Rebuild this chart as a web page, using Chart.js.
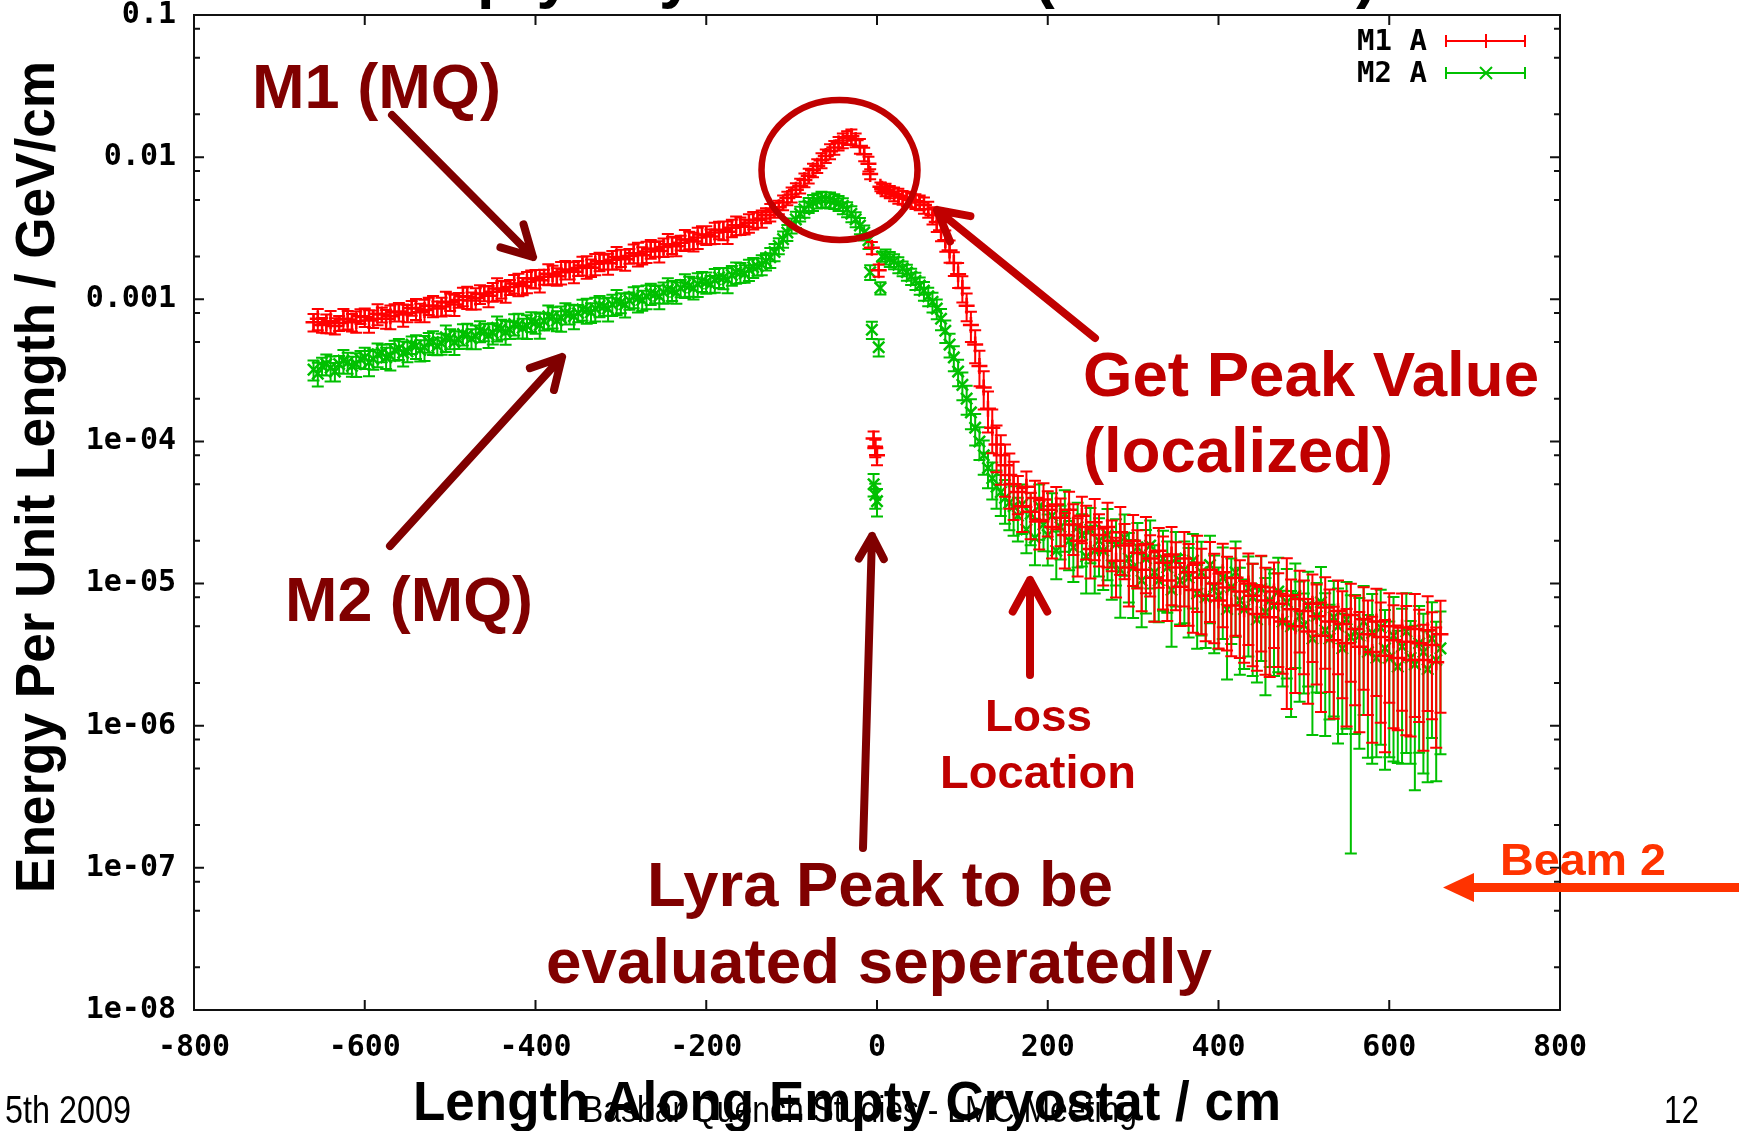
<!DOCTYPE html>
<html>
<head>
<meta charset="utf-8">
<title>Energy per unit length along empty cryostat</title>
<script src="https://cdn.jsdelivr.net/npm/chart.js@4.4.1/dist/chart.umd.min.js"></script>
<style>
  html, body { margin: 0; padding: 0; background: #fff; }
  #wrap { position: relative; width: 1739px; height: 1131px; overflow: hidden; }
</style>
</head>
<body>
<div id="wrap"><canvas id="myChart" width="1739" height="1131"></canvas></div>
<script>
// positions along the cryostat (cm)
const xPos = [
  -660,-655,-650,-645,-640,-635,-630,-625,-620,-615,
  -610,-605,-600,-595,-590,-585,-580,-575,-570,-565,
  -560,-555,-550,-545,-540,-535,-530,-525,-520,-515,
  -510,-505,-500,-495,-490,-485,-480,-475,-470,-465,
  -460,-455,-450,-445,-440,-435,-430,-425,-420,-415,
  -410,-405,-400,-395,-390,-385,-380,-375,-370,-365,
  -360,-355,-350,-345,-340,-335,-330,-325,-320,-315,
  -310,-305,-300,-295,-290,-285,-280,-275,-270,-265,
  -260,-255,-250,-245,-240,-235,-230,-225,-220,-215,
  -210,-205,-200,-195,-190,-185,-180,-175,-170,-165,
  -160,-155,-150,-145,-140,-135,-130,-125,-120,-115,
  -110,-105,-100,-95,-90,-85,-80,-75,-70,-65,
  -60,-55,-50,-45,-40,-35,-30,-25,-20,-15,
  -10,
  -8,-6,-4,-2,0,2,4,6,
  10,15,20,25,30,35,40,45,50,55,60,65,70,75,80,85,90,95,100,105,110,115,120,125,130,135,140,145,150,155,160,
  165,170,175,180,185,190,195,200,205,210,215,220,225,230,235,240,245,250,255,260,
  265,270,275,280,285,290,295,300,305,310,315,320,325,330,335,340,345,350,355,360,
  365,370,375,380,385,390,395,400,405,410,415,420,425,430,435,440,445,450,455,460,
  465,470,475,480,485,490,495,500,505,510,515,520,525,530,535,540,545,550,555,560,
  565,570,575,580,585,590,595,600,605,610,615,620,625,630,635,640,645,650,655,660
];

// M1 A  (GeV/cm)
const m1Val = [
  6.9e-4,7.3e-4,6.6e-4,6.8e-4,7.0e-4,6.5e-4,6.8e-4,7.3e-4,7.2e-4,6.9e-4,
  7.0e-4,7.6e-4,7.5e-4,7.1e-4,7.3e-4,7.9e-4,7.8e-4,7.3e-4,7.6e-4,8.1e-4,
  8.2e-4,7.8e-4,8.0e-4,8.7e-4,8.6e-4,8.1e-4,8.4e-4,9.0e-4,9.0e-4,8.6e-4,
  8.9e-4,9.5e-4,9.6e-4,9.2e-4,9.9e-4,1.05e-3,1.04e-3,9.8e-4,1.02e-3,1.09e-3,
  1.10e-3,1.06e-3,1.13e-3,1.19e-3,1.18e-3,1.14e-3,1.22e-3,1.29e-3,1.28e-3,1.24e-3,
  1.33e-3,1.40e-3,1.40e-3,1.36e-3,1.44e-3,1.51e-3,1.50e-3,1.45e-3,1.55e-3,1.62e-3,
  1.60e-3,1.56e-3,1.66e-3,1.73e-3,1.70e-3,1.67e-3,1.78e-3,1.85e-3,1.84e-3,1.79e-3,
  1.90e-3,1.98e-3,1.96e-3,1.91e-3,2.02e-3,2.11e-3,2.10e-3,2.04e-3,2.17e-3,2.27e-3,
  2.26e-3,2.19e-3,2.33e-3,2.44e-3,2.42e-3,2.36e-3,2.50e-3,2.63e-3,2.62e-3,2.55e-3,
  2.72e-3,2.86e-3,2.84e-3,2.77e-3,2.95e-3,3.08e-3,3.06e-3,2.99e-3,3.18e-3,3.32e-3,
  3.30e-3,3.24e-3,3.45e-3,3.60e-3,3.62e-3,3.70e-3,3.90e-3,4.10e-3,4.25e-3,4.45e-3,
  4.80e-3,5.15e-3,5.45e-3,5.90e-3,6.30e-3,6.90e-3,7.40e-3,8.10e-3,8.70e-3,9.50e-3,
  1.02e-2,1.10e-2,1.17e-2,1.25e-2,1.31e-2,1.37e-2,1.40e-2,1.32e-2,1.20e-2,1.05e-2,
  9.0e-3,
  7.6e-3,2.3e-3,1.05e-4,9.0e-5,8.0e-5,1.6e-3,6.2e-3,6.0e-3,
  5.9e-3,5.7e-3,5.5e-3,5.35e-3,5.2e-3,5.1e-3,5.0e-3,4.9e-3,4.8e-3,4.6e-3,4.3e-3,3.9e-3,3.5e-3,3.05e-3,2.6e-3,2.2e-3,
  1.8e-3,1.5e-3,1.2e-3,9.0e-4,6.6e-4,4.8e-4,3.4e-4,2.4e-4,1.7e-4,1.25e-4,9.5e-5,8.0e-5,6.8e-5,5.8e-5,5.0e-5,
  4.4e-5,3.5e-5,4.8e-5,3.2e-5,4.0e-5,2.8e-5,3.9e-5,3.3e-5,2.5e-5,3.6e-5,2.9e-5,2.2e-5,3.3e-5,2.6e-5,2.0e-5,3.0e-5,2.5e-5,1.75e-5,2.7e-5,2.2e-5,
  1.7e-5,2.5e-5,2.0e-5,1.45e-5,2.3e-5,1.85e-5,1.3e-5,2.0e-5,1.65e-5,1.25e-5,1.9e-5,1.5e-5,1.1e-5,1.7e-5,1.4e-5,1.05e-5,1.6e-5,1.3e-5,9.5e-6,1.5e-5,
  1.2e-5,9.0e-6,1.4e-5,1.1e-5,8.2e-6,1.25e-5,1.0e-5,7.6e-6,1.2e-5,9.4e-6,7.0e-6,1.1e-5,8.8e-6,6.6e-6,1.0e-5,8.2e-6,6.1e-6,9.5e-6,7.6e-6,5.8e-6,
  8.8e-6,7.2e-6,5.4e-6,8.2e-6,6.6e-6,5.0e-6,7.8e-6,6.4e-6,4.6e-6,7.2e-6,5.9e-6,4.3e-6,6.8e-6,5.4e-6,4.0e-6,6.4e-6,5.2e-6,3.8e-6,6.0e-6,4.8e-6,
  3.6e-6,5.6e-6,4.4e-6,3.3e-6,5.4e-6,4.2e-6,3.1e-6,5.0e-6,4.0e-6,3.0e-6,4.9e-6,3.9e-6,2.9e-6,4.8e-6,3.8e-6,2.9e-6,4.7e-6,3.7e-6,2.8e-6,4.4e-6
];
// M1 A error, percent of value
const m1ErrPct = [
  14,17,12,15,18,13,12,17,15,14,
  17,12,15,18,14,17,12,15,19,14,
  15,18,14,12,17,15,18,14,17,12,
  15,19,14,17,12,15,18,14,17,15,
  12,17,15,18,14,17,12,15,18,14,
  17,14,15,18,12,17,15,14,18,15,
  14,17,12,15,18,14,17,15,12,17,
  15,18,14,17,12,15,19,14,17,15,
  12,17,15,18,14,15,12,17,14,15,
  17,14,15,12,17,14,15,18,14,15,
  14,12,15,14,12,14,12,14,12,11,
  12,11,12,11,12,11,12,11,11,12,
  11,12,11,11,12,11,12,11,12,11,
  12,
  8,10,12,14,15,10,7,7,
  10,10,11,12,11,12,11,12,12,13,13,14,15,16,17,18,
  19,20,21,22,24,26,28,30,32,34,36,38,40,42,44,
  30,34,28,36,32,38,30,35,40,33,37,42,34,39,44,36,41,38,46,40,
  43,48,39,45,50,42,47,52,44,49,55,46,51,45,53,48,56,50,47,54,
  58,50,55,60,52,57,62,54,59,64,56,61,66,58,63,68,60,65,70,62,
  60,64,57,84,62,66,58,64,69,61,67,71,63,68,72,64,70,74,66,71,
  75,68,73,77,70,75,79,71,76,69,74,78,71,76,72,77,73,70,75,72
];

// M2 A  (GeV/cm)
const m2Val = [
  3.2e-4,3.0e-4,3.4e-4,3.5e-4,3.3e-4,3.1e-4,3.5e-4,3.7e-4,3.6e-4,3.4e-4,
  3.5e-4,3.8e-4,3.9e-4,3.6e-4,3.8e-4,4.1e-4,4.2e-4,3.9e-4,4.0e-4,4.4e-4,
  4.5e-4,4.2e-4,4.3e-4,4.8e-4,4.7e-4,4.4e-4,4.6e-4,5.0e-4,5.0e-4,4.7e-4,
  4.9e-4,5.4e-4,5.3e-4,5.0e-4,5.2e-4,5.7e-4,5.6e-4,5.3e-4,5.5e-4,6.0e-4,
  5.9e-4,5.6e-4,5.8e-4,6.3e-4,6.2e-4,5.9e-4,6.1e-4,6.7e-4,6.6e-4,6.3e-4,
  6.5e-4,7.0e-4,6.9e-4,6.6e-4,7.0e-4,7.6e-4,7.5e-4,7.1e-4,7.4e-4,8.0e-4,
  7.9e-4,7.6e-4,8.0e-4,8.5e-4,8.4e-4,8.1e-4,8.6e-4,9.0e-4,8.9e-4,8.6e-4,
  9.2e-4,9.7e-4,9.5e-4,9.2e-4,9.8e-4,1.04e-3,1.02e-3,9.9e-4,1.05e-3,1.10e-3,
  1.09e-3,1.05e-3,1.12e-3,1.17e-3,1.16e-3,1.12e-3,1.20e-3,1.26e-3,1.24e-3,1.20e-3,
  1.28e-3,1.34e-3,1.32e-3,1.28e-3,1.37e-3,1.43e-3,1.42e-3,1.38e-3,1.48e-3,1.55e-3,
  1.55e-3,1.52e-3,1.62e-3,1.68e-3,1.70e-3,1.76e-3,1.85e-3,1.98e-3,2.15e-3,2.38e-3,
  2.65e-3,2.95e-3,3.30e-3,3.65e-3,4.00e-3,4.30e-3,4.60e-3,4.80e-3,4.95e-3,5.05e-3,
  5.05e-3,5.00e-3,4.90e-3,4.75e-3,4.55e-3,4.30e-3,4.00e-3,3.65e-3,3.30e-3,2.95e-3,
  2.60e-3,
  1.55e-3,6.1e-4,5.0e-5,4.2e-5,3.8e-5,4.6e-4,1.2e-3,2.0e-3,
  2.0e-3,1.92e-3,1.85e-3,1.75e-3,1.65e-3,1.55e-3,1.45e-3,1.35e-3,1.25e-3,1.15e-3,1.05e-3,9.6e-4,8.6e-4,7.3e-4,6.0e-4,4.8e-4,
  3.9e-4,3.1e-4,2.5e-4,2.0e-4,1.6e-4,1.25e-4,1.0e-4,8.0e-5,6.5e-5,5.5e-5,4.8e-5,4.4e-5,4.0e-5,3.7e-5,3.5e-5,
  3.0e-5,3.6e-5,2.4e-5,3.1e-5,2.1e-5,3.5e-5,2.6e-5,2.2e-5,3.0e-5,1.7e-5,2.5e-5,3.1e-5,2.0e-5,1.8e-5,2.5e-5,2.2e-5,1.55e-5,2.4e-5,1.7e-5,2.0e-5,
  1.7e-5,2.2e-5,1.35e-5,1.9e-5,1.25e-5,2.1e-5,1.5e-5,1.3e-5,1.8e-5,1.05e-5,1.5e-5,1.85e-5,1.2e-5,1.05e-5,1.5e-5,1.3e-5,9.0e-6,1.5e-5,1.05e-5,1.25e-5,
  1.1e-5,1.45e-5,8.5e-6,1.2e-5,8.0e-6,1.35e-5,9.5e-6,8.2e-6,1.1e-5,6.6e-6,9.4e-6,1.2e-5,7.6e-6,6.6e-6,9.3e-6,8.0e-6,5.6e-6,9.2e-6,6.3e-6,7.6e-6,
  7.0e-6,8.8e-6,5.4e-6,7.4e-6,5.0e-6,8.2e-6,5.9e-6,5.1e-6,7.0e-6,4.1e-6,5.9e-6,7.4e-6,4.7e-6,4.1e-6,5.8e-6,5.0e-6,3.5e-6,5.6e-6,4.2e-6,4.6e-6,
  4.3e-6,5.4e-6,3.3e-6,4.5e-6,3.0e-6,4.9e-6,3.5e-6,3.0e-6,4.3e-6,2.6e-6,3.6e-6,4.6e-6,3.0e-6,2.7e-6,3.8e-6,3.3e-6,2.5e-6,4.1e-6,2.9e-6,3.5e-6
];
// M2 A error, percent of value
const m2ErrPct = [
  16,19,14,17,20,15,14,19,17,16,
  19,14,17,20,16,19,14,17,21,16,
  17,20,16,14,19,17,20,16,19,14,
  17,21,16,19,14,17,20,16,19,17,
  14,19,17,20,16,19,14,17,20,16,
  19,16,17,20,14,19,17,16,20,17,
  16,19,14,17,20,16,19,17,14,19,
  17,20,16,19,14,17,21,16,19,17,
  14,19,17,20,16,17,14,19,16,17,
  19,16,17,14,19,16,17,20,16,17,
  16,14,17,16,14,16,14,16,14,13,
  13,13,12,13,12,13,12,13,12,13,
  12,13,12,12,13,12,13,12,13,12,
  13,
  12,14,18,20,22,14,10,8,
  12,12,12,13,12,13,13,14,14,15,15,16,16,17,18,19,
  20,21,22,23,24,25,26,27,28,29,30,32,34,36,38,
  34,38,32,40,36,42,35,39,44,37,41,46,38,43,48,40,45,42,50,44,
  47,52,43,49,54,46,51,56,48,53,59,50,55,49,57,52,60,54,51,58,
  62,54,59,64,56,61,66,58,63,68,60,65,70,62,67,72,64,69,74,66,
  68,73,65,71,77,69,75,67,73,79,71,77,82,73,80,85,75,83,97,81,
  84,78,82,88,80,85,86,80,87,79,85,86,82,87,83,86,84,80,86,82
];

const seriesNames = ['M1 A', 'M2 A'];
const yTickVals = [1e-8, 1e-7, 1e-6, 1e-5, 1e-4, 1e-3, 1e-2, 1e-1];
const yTickLabels = ['1e-08', '1e-07', '1e-06', '1e-05', '1e-04', '0.001', '0.01', '0.1'];
const xTickLabels = ['-800', '-600', '-400', '-200', '0', '200', '400', '600', '800'];

const errPct = [m1ErrPct, m2ErrPct];
const monoFont = '"DejaVu Sans Mono", monospace';
const sansFont = '"Liberation Sans", Arial, sans-serif';

// text squeezed/stretched to a given width, like on the slide
function slideText(ctx, str, x, y, size, width, color, bold, align) {
  ctx.save();
  ctx.font = (bold ? 'bold ' : '') + size + 'px ' + sansFont;
  ctx.fillStyle = color;
  ctx.textBaseline = 'alphabetic';
  ctx.textAlign = 'left';
  const w = ctx.measureText(str).width;
  const sx = width ? width / w : 1;
  const left = align === 'center' ? x - w * sx / 2 : x;
  ctx.translate(left, y);
  ctx.scale(sx, 1);
  ctx.fillText(str, 0, 0);
  ctx.restore();
}

function arrow(ctx, x1, y1, x2, y2, color, lw, head) {
  const a = Math.atan2(y2 - y1, x2 - x1);
  ctx.save();
  ctx.strokeStyle = color;
  ctx.lineWidth = lw;
  ctx.lineCap = 'round';
  ctx.lineJoin = 'round';
  ctx.beginPath();
  ctx.moveTo(x1, y1);
  ctx.lineTo(x2, y2);
  ctx.moveTo(x2 - head * Math.cos(a - 0.5), y2 - head * Math.sin(a - 0.5));
  ctx.lineTo(x2, y2);
  ctx.lineTo(x2 - head * Math.cos(a + 0.5), y2 - head * Math.sin(a + 0.5));
  ctx.stroke();
  ctx.restore();
}

// gnuplot style y error bars, drawn under each dataset's points
const errorBars = {
  id: 'errorBars',
  beforeDatasetDraw(chart, args) {
    const ds = chart.data.datasets[args.index];
    const pct = errPct[args.index];
    const { ctx, chartArea: ca, scales: { x, y } } = chart;
    ctx.save();
    ctx.beginPath();
    ctx.rect(ca.left, ca.top, ca.right - ca.left, ca.bottom - ca.top);
    ctx.clip();
    ctx.strokeStyle = ds.borderColor;
    ctx.lineWidth = 2;
    ctx.beginPath();
    ds.data.forEach((p, i) => {
      const px = x.getPixelForValue(p.x);
      const d = p.y * pct[i] / 100;
      const top = y.getPixelForValue(p.y + d);
      const bot = y.getPixelForValue(Math.max(p.y - d, 1e-9));
      ctx.moveTo(px, top); ctx.lineTo(px, bot);
      ctx.moveTo(px - 6, top); ctx.lineTo(px + 6, top);
      ctx.moveTo(px - 6, bot); ctx.lineTo(px + 6, bot);
    });
    ctx.stroke();
    ctx.restore();
  }
};

// frame, inward ticks, key and the slide annotations
const decorations = {
  id: 'decorations',
  afterDraw(chart) {
    const { ctx, chartArea: ca, scales: { x, y } } = chart;

    ctx.save();
    ctx.strokeStyle = '#111';
    ctx.lineWidth = 2;
    ctx.strokeRect(ca.left, ca.top, ca.right - ca.left, ca.bottom - ca.top);
    ctx.beginPath();
    x.ticks.forEach(t => {
      const px = x.getPixelForValue(t.value);
      ctx.moveTo(px, ca.bottom); ctx.lineTo(px, ca.bottom - 10);
      ctx.moveTo(px, ca.top); ctx.lineTo(px, ca.top + 10);
    });
    y.ticks.forEach(t => {
      const py = y.getPixelForValue(t.value);
      ctx.moveTo(ca.left, py); ctx.lineTo(ca.left + 10, py);
      ctx.moveTo(ca.right, py); ctx.lineTo(ca.right - 10, py);
    });
    for (let k = -8; k < -1; k++) {
      [2, 5, 8].forEach(m => {
        const py = y.getPixelForValue(m * Math.pow(10, k));
        ctx.moveTo(ca.left, py); ctx.lineTo(ca.left + 6, py);
        ctx.moveTo(ca.right, py); ctx.lineTo(ca.right - 6, py);
      });
    }
    ctx.stroke();
    ctx.restore();

    // key
    chart.data.datasets.forEach((ds, r) => {
      const yy = 41 + r * 32;
      ctx.save();
      ctx.font = 'bold 29px ' + monoFont;
      ctx.fillStyle = '#000';
      ctx.textBaseline = 'middle';
      ctx.fillText(ds.label, 1357, yy + 1);
      ctx.strokeStyle = ds.borderColor;
      ctx.lineWidth = 2;
      ctx.beginPath();
      ctx.moveTo(1446, yy); ctx.lineTo(1525, yy);
      ctx.moveTo(1446, yy - 6); ctx.lineTo(1446, yy + 6);
      ctx.moveTo(1525, yy - 6); ctx.lineTo(1525, yy + 6);
      if (ds.pointStyle === 'cross') {
        ctx.moveTo(1486, yy - 7); ctx.lineTo(1486, yy + 7);
      } else {
        ctx.moveTo(1480, yy - 6); ctx.lineTo(1492, yy + 6);
        ctx.moveTo(1480, yy + 6); ctx.lineTo(1492, yy - 6);
      }
      ctx.stroke();
      ctx.restore();
    });

    // cut-off slide title
    slideText(ctx, 'Empty Cryostat Dose (Beam 2 IP)', 379, -4, 65, 998, '#000', true);

    // axis titles and footer
    slideText(ctx, 'Basbar Quench Studies - LMC Meeting', 582, 1122, 36, 555, '#000', false);
    slideText(ctx, '5th 2009', 5, 1123, 38, 126, '#000', false);
    slideText(ctx, '12', 1664, 1123, 38, 35, '#000', false);
    slideText(ctx, 'Length Along Empty Cryostat / cm', 847, 1120, 56, 868, '#000', true, 'center');
    ctx.save();
    ctx.translate(54, 477);
    ctx.rotate(-Math.PI / 2);
    slideText(ctx, 'Energy Per Unit Length / GeV/cm', 0, 0, 56, 832, '#000', true, 'center');
    ctx.restore();

    // annotations
    const dark = '#800000', red = '#c00000';
    ctx.save();
    ctx.strokeStyle = red;
    ctx.lineWidth = 6.5;
    ctx.beginPath();
    ctx.ellipse(839.5, 170, 78, 70, 0, 0, Math.PI * 2);
    ctx.stroke();
    ctx.restore();

    slideText(ctx, 'M1 (MQ)', 252, 108, 63, 249, dark, true);
    slideText(ctx, 'M2 (MQ)', 285, 621, 63, 248, dark, true);
    slideText(ctx, 'Get Peak Value', 1083, 396, 63, 456, red, true);
    slideText(ctx, '(localized)', 1083, 472, 63, 310, red, true);
    slideText(ctx, 'Loss', 985, 731, 45, 107, red, true);
    slideText(ctx, 'Location', 940, 788, 46, 196, red, true);
    slideText(ctx, 'Lyra Peak to be', 647, 906, 63, 466, dark, true);
    slideText(ctx, 'evaluated seperatedly', 546, 983, 63, 666, dark, true);
    slideText(ctx, 'Beam 2', 1500, 875, 45, 166, '#ff3300', true);

    arrow(ctx, 392, 115, 533, 257, dark, 8, 34);
    arrow(ctx, 390, 546, 562, 357, dark, 8, 34);
    arrow(ctx, 1095, 338, 937, 210, red, 8, 34);
    arrow(ctx, 1030, 675, 1030, 580, red, 8, 36);
    arrow(ctx, 863, 848, 872, 536, dark, 8, 26);

    // beam direction
    ctx.save();
    ctx.strokeStyle = '#ff3300';
    ctx.fillStyle = '#ff3300';
    ctx.lineWidth = 9;
    ctx.beginPath();
    ctx.moveTo(1739, 887.5); ctx.lineTo(1468, 887.5);
    ctx.stroke();
    ctx.beginPath();
    ctx.moveTo(1443, 887.5); ctx.lineTo(1474, 873); ctx.lineTo(1474, 902); ctx.closePath();
    ctx.fill();
    ctx.restore();
  }
};

const m1Points = xPos.map((x, i) => ({ x: x, y: m1Val[i] }));
const m2Points = xPos.map((x, i) => ({ x: x, y: m2Val[i] }));

const config = {
  type: 'scatter',
  data: {
    datasets: [{
      label: seriesNames[0],
      data: m1Points,
      pointStyle: 'cross',
      pointRadius: 8,
      borderWidth: 2.5,
      borderColor: '#ff0000',
      backgroundColor: '#ff0000',
      showLine: false
    }, {
      label: seriesNames[1],
      data: m2Points,
      pointStyle: 'crossRot',
      pointRadius: 8,
      borderWidth: 2.5,
      borderColor: '#00c000',
      backgroundColor: '#00c000',
      showLine: false
    }]
  },
  options: {
    responsive: false,
    animation: false,
    devicePixelRatio: 1,
    layout: { padding: { left: 0, right: 179, top: 15, bottom: 0 }, autoPadding: false },
    plugins: { legend: { display: false }, tooltip: { enabled: false } },
    scales: {
      x: {
        type: 'linear',
        min: -800,
        max: 800,
        grid: { display: false },
        border: { display: false },
        ticks: {
          stepSize: 200,
          maxRotation: 0,
          padding: 12,
          color: '#000',
          font: { family: monoFont, size: 30, weight: 'bold' },
          callback: (v, i) => xTickLabels[i]
        },
        afterFit: (scale) => {
          scale.height = 121;
          scale.paddingLeft = 0; scale.paddingRight = 0;
        }
      },
      y: {
        type: 'logarithmic',
        min: 1e-8,
        max: 0.1,
        grid: { display: false },
        border: { display: false },
        afterBuildTicks: (scale) => { scale.ticks = yTickVals.map(v => ({ value: v })); },
        ticks: {
          autoSkip: false,
          padding: 10,
          color: '#000',
          font: { family: monoFont, size: 30, weight: 'bold' },
          callback: (v, i) => yTickLabels[i]
        },
        afterFit: (scale) => {
          scale.width = 194;
          scale.paddingTop = 0; scale.paddingBottom = 0;
        }
      }
    }
  },
  plugins: [errorBars, decorations]
};

const ctx = document.getElementById('myChart');
new Chart(ctx, config);
</script>
</body>
</html>
